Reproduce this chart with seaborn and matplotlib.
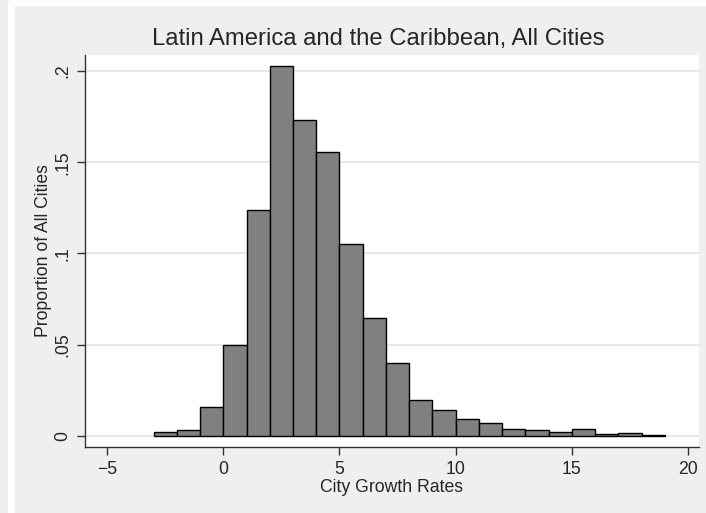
import numpy as np
import pandas as pd
import seaborn as sns
import matplotlib.pyplot as plt
from matplotlib.patches import Rectangle

# bin left edges (width 1) and the proportion of cities in each bin
bin_starts = [-3, -2, -1, 0, 1, 2, 3, 4, 5, 6, 7, 8, 9, 10, 11, 12, 13, 14, 15, 16, 17, 18]
proportions = [0.002, 0.003, 0.0155, 0.0498, 0.1236, 0.2026, 0.1731, 0.1555, 0.105, 0.0648,
               0.0401, 0.0194, 0.0139, 0.0093, 0.0068, 0.0038, 0.0033, 0.0018, 0.0035, 0.0011,
               0.0015, 0.0005]
x_ticks = [-5, 0, 5, 10, 15, 20]
y_ticks = [0, 0.05, 0.1, 0.15, 0.2]
y_tick_labels = ["0", ".05", ".1", ".15", ".2"]

df = pd.DataFrame({"growth": np.array(bin_starts) + 0.5, "prop": proportions})

sns.set_style("white")
plt.rcParams["font.family"] = ["Liberation Sans", "DejaVu Sans"]

fig = plt.figure(figsize=(7.06, 5.13), dpi=100)
fig.patch.set_facecolor("white")
# stata-like background panels
fig.patches.append(Rectangle((0, 0), 8 / 706, 1, transform=fig.transFigure,
                             facecolor="#efefef", edgecolor="none", zorder=-10))
fig.patches.append(Rectangle((15 / 706, 0), 1, 1 - 6 / 513, transform=fig.transFigure,
                             facecolor="#efefef", edgecolor="none", zorder=-10))

ax = fig.add_axes([85 / 706, 1 - 447 / 513, (699 - 85) / 706, (447 - 55) / 513])
ax.set_facecolor("white")

sns.histplot(data=df, x="growth", weights="prop", binwidth=1,
             binrange=(bin_starts[0], bin_starts[-1] + 1),
             color="#808080", alpha=1, edgecolor="black", linewidth=1.0, ax=ax, zorder=3)

for yv in y_ticks:
    ax.axhline(yv, color="#e4e4e4", lw=1.2, zorder=1)

ax.set_xlim(-5.95, 20.47)
ax.set_ylim(-0.0062, 0.2088)
ax.set_xticks(x_ticks)
ax.set_xticklabels(["\u22125", "0", "5", "10", "15", "20"])
ax.set_yticks(y_ticks)
ax.set_yticklabels(y_tick_labels, rotation=90, va="center")

for side in ["top", "right"]:
    ax.spines[side].set_visible(False)
for side in ["left", "bottom"]:
    ax.spines[side].set_color("#333333")
    ax.spines[side].set_linewidth(1.0)

ax.tick_params(axis="both", direction="out", length=6, width=1, color="#333333",
               labelsize=12.7, pad=4, bottom=True, left=True)

ax.set_xlabel("City Growth Rates", fontsize=12.7, labelpad=1)
ax.set_ylabel("Proportion of All Cities", fontsize=12.7, labelpad=1.5)
ax.set_title("Latin America and the Caribbean, All Cities", fontsize=17.2, pad=7, x=0.477)

fig.savefig("out.png", dpi=100)
